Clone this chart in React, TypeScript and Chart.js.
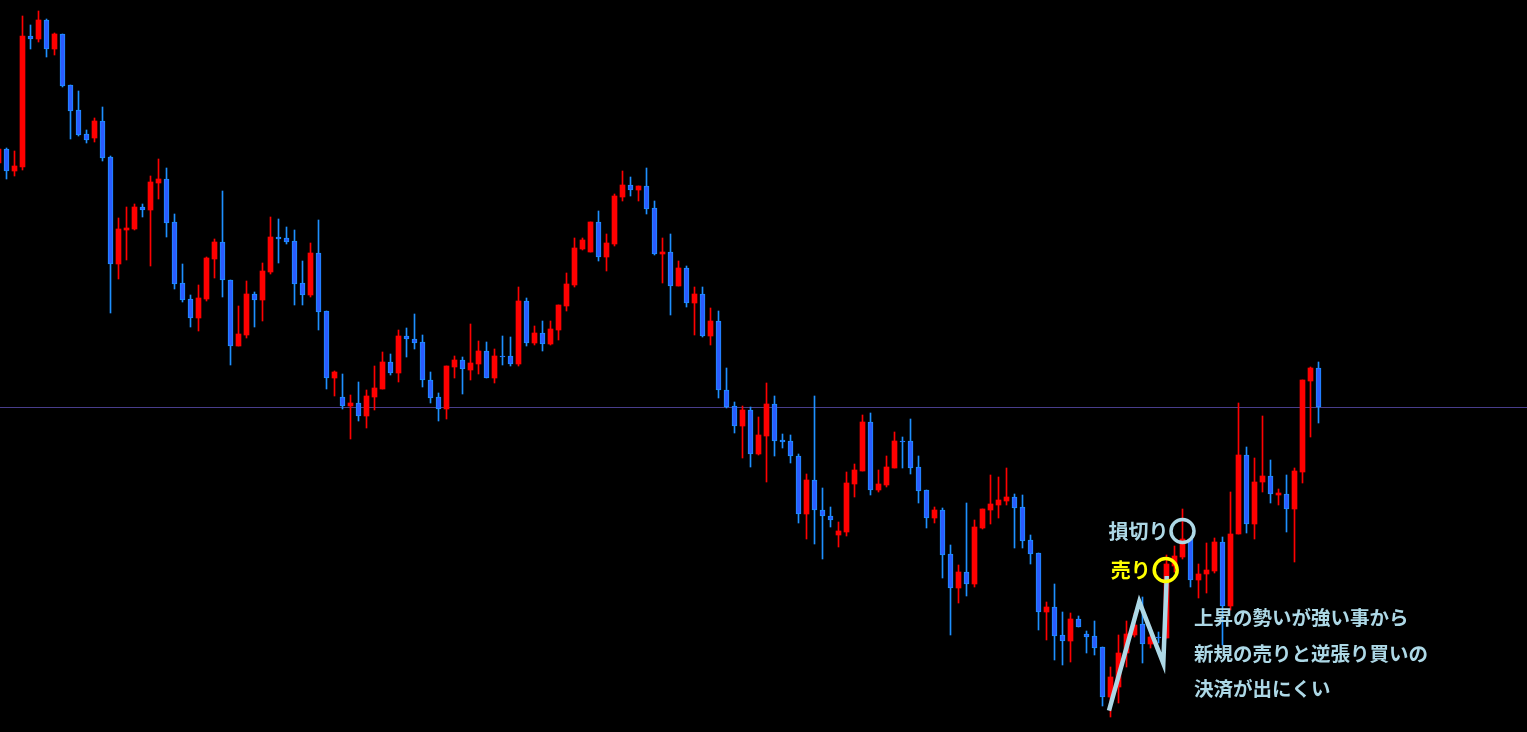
import React, { useEffect, useRef } from "react";
import { Chart, registerables } from "chart.js";

Chart.register(...registerables);

const W = 1527;
const H = 732;

// OHLC per candle (price units), oldest first
const opens = [
  569, 583, 561, 565, 696, 693, 712, 683, 698, 647,
  622, 598, 594, 611, 575, 468, 502, 503, 525, 522,
  549, 553, 510, 449, 433, 414, 433, 473, 490, 452,
  386, 397, 438, 432, 460, 495, 494, 491, 449, 437,
  479, 421, 354, 335, 326, 329, 316, 335, 343, 370,
  359, 396, 393, 390, 352, 335, 323, 365, 372, 362,
  368, 381, 354, 376, 376, 368, 431, 389, 399, 388,
  402, 426, 447, 483, 480, 510, 475, 488, 535, 547,
  542, 546, 524, 478, 480, 446, 464, 429, 438, 396,
  411, 342, 326, 306, 322, 278, 296, 328, 292, 291,
  276, 218, 252, 222, 216, 197, 200, 248, 261, 310,
  242, 247, 264, 291, 291, 265, 242, 214, 222, 178,
  144, 160, 148, 204, 222, 227, 231, 235, 225, 192,
  179, 120, 125, 97, 91, 113, 98, 96, 85, 35,
  45, 79, 97, 108, 88, 95, 94, 166, 175, 193,
  152, 158, 161, 190, 126, 198, 277, 208, 250, 256,
  237, 238, 223, 260, 351, 364,
];
const highs = [
  585, 584, 581, 716, 707, 721, 713, 699, 698, 647,
  641, 602, 614, 625, 576, 514, 525, 528, 528, 556,
  573, 564, 518, 468, 437, 447, 475, 493, 541, 452,
  426, 451, 440, 469, 515, 513, 505, 502, 471, 489,
  512, 421, 361, 358, 337, 350, 342, 366, 380, 378,
  402, 404, 418, 397, 360, 339, 366, 376, 375, 408,
  391, 390, 383, 396, 395, 445, 434, 406, 411, 411,
  427, 459, 494, 494, 510, 521, 498, 538, 561, 555,
  546, 564, 531, 494, 498, 471, 466, 445, 445, 424,
  421, 364, 330, 326, 325, 315, 349, 336, 298, 297,
  278, 258, 336, 244, 225, 210, 260, 268, 317, 319,
  262, 276, 300, 295, 313, 276, 242, 225, 224, 187,
  167, 229, 212, 223, 257, 255, 264, 238, 237, 197,
  179, 130, 148, 120, 119, 116, 101, 111, 85, 65,
  97, 111, 119, 135, 105, 100, 177, 186, 223, 193,
  168, 189, 194, 195, 240, 329, 285, 274, 316, 272,
  243, 257, 264, 352, 365, 370,
];
const lows = [
  567, 553, 556, 562, 683, 690, 675, 677, 645, 593,
  596, 589, 590, 571, 419, 453, 472, 502, 515, 466,
  533, 495, 443, 430, 405, 401, 431, 454, 435, 367,
  386, 394, 405, 411, 458, 469, 488, 427, 427, 435,
  402, 343, 336, 323, 293, 311, 304, 322, 343, 357,
  350, 375, 383, 345, 329, 311, 313, 354, 338, 352,
  358, 354, 349, 367, 366, 366, 386, 387, 381, 387,
  392, 421, 445, 482, 480, 471, 461, 486, 531, 536,
  531, 518, 477, 449, 417, 446, 425, 397, 395, 387,
  334, 324, 299, 274, 265, 277, 250, 276, 284, 269,
  209, 193, 188, 173, 205, 185, 196, 235, 261, 237,
  240, 245, 264, 264, 258, 229, 204, 209, 154, 97,
  129, 136, 145, 203, 208, 214, 227, 184, 184, 168,
  102, 92, 72, 67, 70, 105, 79, 77, 26, 15,
  29, 65, 95, 69, 84, 89, 94, 160, 173, 145,
  134, 139, 159, 87, 122, 198, 199, 193, 240, 229,
  227, 200, 170, 249, 295, 309,
];
const closes = [
  583, 561, 566, 696, 693, 712, 683, 698, 646, 621,
  597, 592, 611, 574, 468, 503, 504, 525, 522, 550,
  553, 509, 448, 432, 414, 434, 474, 490, 452, 386,
  398, 438, 432, 461, 495, 493, 490, 448, 437, 479,
  420, 354, 360, 326, 329, 316, 336, 344, 370, 359,
  396, 393, 389, 352, 334, 323, 366, 372, 363, 369,
  381, 354, 376, 375, 368, 431, 389, 399, 388, 403,
  427, 448, 484, 492, 510, 475, 489, 536, 547, 542,
  546, 523, 478, 480, 446, 464, 429, 438, 396, 411,
  342, 325, 306, 322, 278, 297, 328, 291, 290, 276,
  218, 252, 222, 216, 212, 201, 249, 262, 310, 242,
  248, 265, 291, 290, 264, 241, 214, 222, 177, 144,
  160, 148, 205, 223, 228, 232, 235, 224, 191, 178,
  120, 125, 96, 91, 113, 105, 95, 84, 35, 55,
  79, 98, 107, 88, 95, 94, 168, 176, 193, 152,
  158, 162, 190, 126, 198, 277, 208, 250, 256, 238,
  239, 223, 261, 352, 364, 325,
];

const HLINE_PRICE = 325;

// annotation anchors in data coordinates (candle index, price)
const N_PATH = [
  { x: 138.81, y: 21.3 },
  { x: 142.6, y: 130.3 },
  { x: 145.6, y: 68.7 },
  { x: 146.03, y: 156 },
];
const SELL_MARK = { x: 145.9, y: 162 };
const STOP_MARK = { x: 148.0, y: 201 };
const SELL_LABEL = "売り";
const STOP_LABEL = "損切り";
const NOTE_LINES = ["上昇の勢いが強い事から", "新規の売りと逆張り買いの", "決済が出にくい"];
const NOTE_ANCHOR = { x: 149.45, y: 114 };

const UP_COLOR = "#ff0000";
const DOWN_FILL = "#2b5cff";
const DOWN_EDGE = "#1e90ff";
const NOTE_COLOR = "#add8e6";
const SELL_COLOR = "#ffff00";
const HLINE_COLOR = "#483d8b";
const FONT = '"Noto Sans CJK JP", "Noto Sans", sans-serif';

const X_MIN = 0.1875;
const X_MAX = X_MIN + W / 8;

const overlay = {
  id: "overlay",
  beforeDraw(chart: any) {
    const ctx = chart.ctx;
    ctx.save();
    ctx.fillStyle = "#000000";
    ctx.fillRect(0, 0, chart.width, chart.height);
    ctx.restore();
  },
  beforeDatasetsDraw(chart: any) {
    const ctx = chart.ctx;
    const ys = chart.scales.y;
    const y = Math.round(ys.getPixelForValue(HLINE_PRICE));
    ctx.save();
    ctx.fillStyle = HLINE_COLOR;
    ctx.fillRect(chart.chartArea.left, y, chart.chartArea.right - chart.chartArea.left, 1);
    ctx.restore();
  },
  afterDatasetsDraw(chart: any) {
    const ctx = chart.ctx;
    const xs = chart.scales.x;
    const ys = chart.scales.y;
    const px = (p: { x: number; y: number }) => [xs.getPixelForValue(p.x), ys.getPixelForValue(p.y)];
    ctx.save();
    // N path
    ctx.strokeStyle = NOTE_COLOR;
    ctx.lineWidth = 4.5;
    ctx.lineJoin = "miter";
    ctx.lineCap = "butt";
    ctx.beginPath();
    N_PATH.forEach((p, i) => {
      const [x, y] = px(p);
      if (i === 0) ctx.moveTo(x, y);
      else ctx.lineTo(x, y);
    });
    ctx.stroke();
    // circles
    const [sx, sy] = px(SELL_MARK);
    ctx.strokeStyle = SELL_COLOR;
    ctx.lineWidth = 3.5;
    ctx.beginPath();
    ctx.arc(sx, sy, 11.5, 0, Math.PI * 2);
    ctx.stroke();
    const [tx, ty] = px(STOP_MARK);
    ctx.strokeStyle = NOTE_COLOR;
    ctx.beginPath();
    ctx.arc(tx, ty, 11.5, 0, Math.PI * 2);
    ctx.stroke();
    // labels
    ctx.font = `bold 20px ${FONT}`;
    ctx.textBaseline = "middle";
    ctx.textAlign = "right";
    ctx.fillStyle = SELL_COLOR;
    ctx.fillText(SELL_LABEL, sx - 15, sy);
    ctx.fillStyle = NOTE_COLOR;
    ctx.fillText(STOP_LABEL, tx - 14, ty);
    ctx.textAlign = "left";
    ctx.font = `bold 19.5px ${FONT}`;
    const [nx, ny] = px(NOTE_ANCHOR);
    NOTE_LINES.forEach((line, i) => {
      ctx.fillText(line, nx, ny + i * 35.3);
    });
    ctx.restore();
  },
};

export default function App() {
  const ref = useRef<HTMLCanvasElement | null>(null);
  useEffect(() => {
    if (!ref.current) return;
    const up = opens.map((o, i) => closes[i] >= o);
    const chart = new Chart(ref.current, {
      type: "bar",
      data: {
        datasets: [
          {
            label: "body",
            data: opens.map((o, i) => ({ x: i, y: [o, closes[i]] })) as any,
            backgroundColor: up.map((u) => (u ? UP_COLOR : DOWN_FILL)),
            borderColor: up.map((u) => (u ? UP_COLOR : DOWN_EDGE)),
            borderWidth: up.map((u) => (u ? 0 : 1)),
            borderSkipped: false,
            barThickness: 5,
            grouped: false,
            order: 0,
          } as any,
          {
            label: "wick",
            data: lows.map((l, i) => ({ x: i, y: [l, highs[i]] })) as any,
            backgroundColor: up.map((u) => (u ? UP_COLOR : DOWN_EDGE)),
            borderWidth: 0,
            barThickness: 1,
            grouped: false,
            order: 1,
          } as any,
        ],
      },
      options: {
        responsive: false,
        animation: false,
        events: [],
        layout: { padding: 0 },
        plugins: { legend: { display: false }, tooltip: { enabled: false } },
        scales: {
          x: { type: "linear", min: X_MIN, max: X_MAX, display: false, offset: false },
          y: { min: 0, max: H, display: false },
        },
      },
      plugins: [overlay],
    });
    return () => chart.destroy();
  }, []);
  return (
    <div style={{ position: "fixed", left: 0, top: 0, width: W, height: H, background: "#000" }}>
      <canvas ref={ref} width={W} height={H} style={{ display: "block" }} />
    </div>
  );
}
